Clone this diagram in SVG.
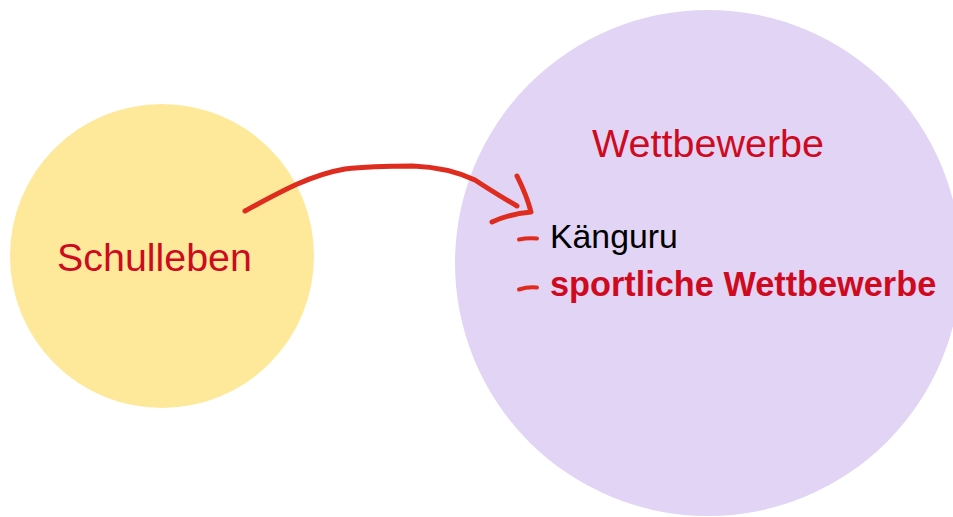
<svg xmlns="http://www.w3.org/2000/svg" width="953" height="517" viewBox="0 0 953 517">
<style>
.lbl{font-family:"Liberation Sans",Arial,sans-serif;fill:#cf0a1f}
.stroke{fill:none;stroke:#de2d1e;stroke-linecap:round;stroke-linejoin:round}
</style>
<rect width="953" height="517" fill="#ffffff"/>
<g id="node-schulleben">
<circle cx="162" cy="256" r="152" fill="#fee99a"/>
<text class="lbl" x="57" y="271" font-size="39.4">Schulleben</text>
</g>
<g id="node-wettbewerbe">
<circle cx="708" cy="263" r="253" fill="#e2d4f5"/>
<text class="lbl" x="592" y="157" font-size="39.5">Wettbewerbe</text>
<path class="stroke" stroke-width="4" d="M519,239.5 Q528,237.5 537,238.5"/>
<text x="550" y="248" font-size="33.8" font-family="Liberation Sans, Arial, sans-serif" fill="#000000">Känguru</text>
<path class="stroke" stroke-width="4" d="M519,289.5 Q528,286.5 537,287.5"/>
<text class="lbl" x="550" y="296" font-size="34.3" font-weight="bold">sportliche Wettbewerbe</text>
</g>
<g id="connectors">
<path class="stroke" stroke-width="5" d="M245,211 C280,192 310,175 345,169 C370,166 395,166 413,166 C440,167 460,173 475,180 C490,190 505,199 517,206"/>
<path class="stroke" stroke-width="5" d="M517,176 C523,188 528,200 531,212 C518,213 505,216 492,222"/>
</g>
</svg>
